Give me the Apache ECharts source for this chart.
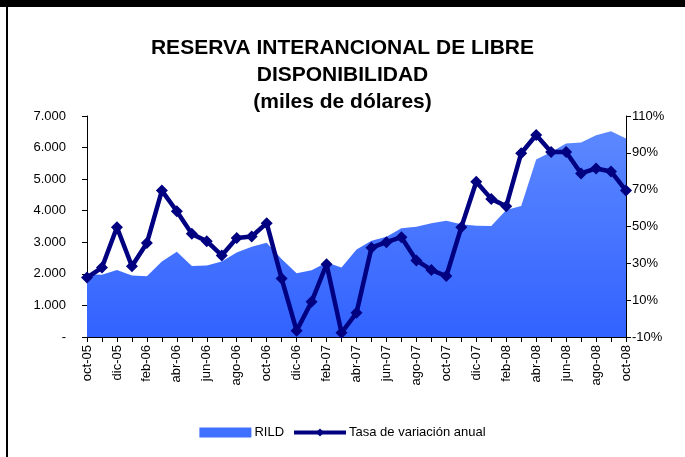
<!DOCTYPE html>
<html>
<head>
<meta charset="utf-8">
<script src="https://cdn.jsdelivr.net/npm/echarts@6/dist/echarts.min.js"></script>
<style>
    html, body { margin: 0; padding: 0; background: #ffffff; }
    #frame { position: relative; width: 685px; height: 457px; overflow: hidden; }
    #topBar { position: absolute; left: 0; top: 0; width: 685px; height: 7px; background: #000; }
    #leftBar { position: absolute; left: 6px; top: 0; width: 2px; height: 457px; background: #000; }
    #chart { position: absolute; left: 0; top: 0; width: 685px; height: 457px; }
</style>
</head>
<body>
<div id="frame">
    <div id="chart"></div>
    <div id="topBar"></div>
    <div id="leftBar"></div>
</div>
<script>
// Months oct-05 .. oct-08
const months = [
    'oct-05', 'nov-05', 'dic-05', 'ene-06', 'feb-06', 'mar-06', 'abr-06', 'may-06', 'jun-06',
    'jul-06', 'ago-06', 'sep-06', 'oct-06', 'nov-06', 'dic-06', 'ene-07', 'feb-07', 'mar-07',
    'abr-07', 'may-07', 'jun-07', 'jul-07', 'ago-07', 'sep-07', 'oct-07', 'nov-07', 'dic-07',
    'ene-08', 'feb-08', 'mar-08', 'abr-08', 'may-08', 'jun-08', 'jul-08', 'ago-08', 'sep-08',
    'oct-08'
];

// RILD, miles de dólares (left axis)
const rild = [
    1990, 1968, 2125, 1946, 1927, 2388, 2704, 2252, 2262, 2388, 2673, 2862, 2988,
    2473, 2021, 2116, 2356, 2198, 2770, 3051, 3177, 3443, 3494, 3600, 3684, 3570,
    3525, 3515, 4020, 4147, 5622, 5862, 6127, 6159, 6390, 6516, 6285
];

// Tasa de variación anual, % (right axis)
const tasa = [
    22.3, 27.7, 49.6, 28.4, 41.0, 69.5, 58.3, 46.0, 42.0, 34.3, 43.7, 44.6, 51.8,
    21.7, -6.6, 9.1, 29.5, -7.7, 3.1, 38.5, 41.5, 44.2, 31.6, 26.4, 23.1, 49.6,
    74.3, 65.0, 61.0, 89.8, 99.7, 90.5, 90.5, 78.8, 81.5, 79.9, 69.5
];

// right axis runs -10% .. 110%; shift by +10 so ticks start on a multiple of the interval
const PCT_OFFSET = 10;

const FONT = '"Liberation Sans", Arial, sans-serif';

const chart = echarts.init(document.getElementById('chart'), null, { renderer: 'canvas' });

chart.setOption({
    backgroundColor: '#ffffff',
    animation: false,
    title: {
        text: 'RESERVA INTERANCIONAL DE LIBRE\nDISPONIBILIDAD\n(miles de dólares)',
        left: 'center',
        top: 30,
        textStyle: {
            fontFamily: FONT,
            fontWeight: 'bold',
            fontSize: 21,
            lineHeight: 27,
            color: '#000'
        }
    },
    legend: {
        bottom: 13,
        left: 'center',
        itemGap: 8,
        itemWidth: 52,
        itemHeight: 10,
        textStyle: { fontFamily: FONT, fontSize: 13, color: '#000', padding: [0, 0, 0, -2] },
        data: [
            { name: 'RILD', icon: 'rect', itemStyle: { color: '#4070ff' } },
            {
                name: 'Tasa de variación anual',
                lineStyle: { width: 4, color: '#000080' },
                itemStyle: { color: '#000080' }
            }
        ]
    },
    grid: {
        left: 87,
        right: 59,
        top: 116,
        bottom: 120,
        containLabel: false
    },
    xAxis: {
        type: 'category',
        data: months,
        boundaryGap: false,
        axisLine: { lineStyle: { color: '#000', width: 1 } },
        axisTick: { show: true, interval: 0, length: 5, lineStyle: { color: '#000' } },
        axisLabel: {
            interval: 1,
            rotate: 90,
            margin: 8,
            fontFamily: FONT,
            fontSize: 13,
            color: '#000'
        },
        splitLine: { show: false }
    },
    yAxis: [
        {
            type: 'value',
            min: 0,
            max: 7000,
            interval: 1000,
            axisLine: { show: true, lineStyle: { color: '#000' } },
            axisTick: { show: true, length: 5, lineStyle: { color: '#000' } },
            axisLabel: {
                margin: 21,
                fontFamily: FONT,
                fontSize: 13,
                color: '#000',
                formatter: (v) => v === 0 ? '-' : (v / 1000).toFixed(0) + '.000'
            },
            splitLine: { show: false }
        },
        {
            type: 'value',
            min: 0,
            max: 120,
            interval: 20,
            position: 'right',
            axisLine: { show: true, lineStyle: { color: '#000' } },
            axisTick: { show: true, length: 5, lineStyle: { color: '#000' } },
            axisLabel: {
                margin: 6,
                fontFamily: FONT,
                fontSize: 13,
                color: '#000',
                formatter: (v) => (v - PCT_OFFSET) + '%'
            },
            splitLine: { show: false }
        }
    ],
    series: [
        {
            name: 'RILD',
            type: 'line',
            yAxisIndex: 0,
            data: rild,
            symbol: 'none',
            lineStyle: { width: 0 },
            itemStyle: { color: '#4070ff' },
            areaStyle: {
                opacity: 1,
                color: new echarts.graphic.LinearGradient(0, 0, 0, 1, [
                    { offset: 0, color: '#5c88ff' },
                    { offset: 1, color: '#3262ff' }
                ])
            },
            z: 1
        },
        {
            name: 'Tasa de variación anual',
            type: 'line',
            yAxisIndex: 1,
            data: tasa.map((v) => v + PCT_OFFSET),
            symbol: 'diamond',
            symbolSize: 12,
            showAllSymbol: true,
            lineStyle: { color: '#000080', width: 4.5 },
            itemStyle: { color: '#000080' },
            z: 3
        }
    ]
});
</script>
</body>
</html>
